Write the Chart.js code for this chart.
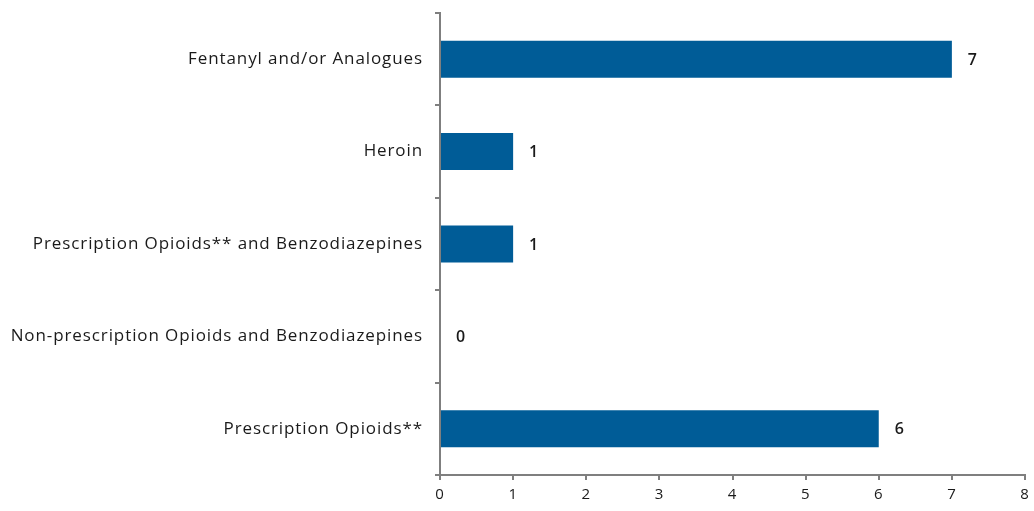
<!DOCTYPE html>
<html lang="en">
<head>
  <meta charset="UTF-8">
  <title>Opioid categories</title>
  <script src="https://cdn.jsdelivr.net/npm/chart.js"></script>
  <style>
    html, body { margin: 0; padding: 0; background: #fff; }
    #wrap { width: 1034px; height: 511px; }
  </style>
</head>
<body>
  <div id="wrap"><canvas id="graphique" width="1034" height="511"></canvas></div>
  <script>
    const categories = [
      "Fentanyl and/or Analogues",
      "Heroin",
      "Prescription Opioids** and Benzodiazepines",
      "Non-prescription Opioids and Benzodiazepines",
      "Prescription Opioids**"
    ];
    const counts = [7, 1, 1, 0, 6];
    const xTicks = [0, 1, 2, 3, 4, 5, 6, 7, 8];

    const police = "'Open Sans', sans-serif";

    // un peu d'espacement entre les lettres, comme l'original
    const espacement = {
      id: "espacement",
      beforeInit(chart) { chart.ctx.letterSpacing = "0.9px"; },
      beforeDraw(chart) { chart.ctx.letterSpacing = "0.9px"; }
    };

    // valeurs à droite des barres
    const etiquettes = {
      id: "etiquettes",
      afterDatasetsDraw(chart) {
        const ctx = chart.ctx;
        const meta = chart.getDatasetMeta(0);
        ctx.save();
        ctx.font = "600 16px " + police;
        ctx.fillStyle = "#1a1a1a";
        ctx.textAlign = "center";
        ctx.textBaseline = "middle";
        meta.data.forEach((bar, i) => {
          ctx.fillText(String(counts[i]), bar.x + 21, bar.y + 1);
        });
        ctx.restore();
      }
    };

    new Chart(document.getElementById("graphique"), {
      type: "bar",
      data: {
        labels: categories,
        datasets: [{
          data: counts,
          backgroundColor: "#005c97",
          borderWidth: 0,
          categoryPercentage: 1,
          barPercentage: 0.4
        }]
      },
      options: {
        indexAxis: "y",
        responsive: false,
        animation: false,
        layout: { padding: { top: 13, right: 9, left: 0, bottom: 0 } },
        plugins: { legend: { display: false }, tooltip: { enabled: false } },
        scales: {
          x: {
            min: 0,
            max: 8,
            afterBuildTicks: (s) => { s.ticks = xTicks.map(v => ({ value: v })); },
            grid: { drawOnChartArea: false, drawTicks: true, tickLength: 5, color: "#7f7f7f", lineWidth: 2 },
            border: { color: "#7f7f7f", width: 2 },
            ticks: { color: "#1a1a1a", font: { family: police, size: 15 }, padding: 6 },
            afterFit: (s) => { s.height = 36; s.paddingLeft = 0; s.paddingRight = 0; }
          },
          y: {
            grid: { drawOnChartArea: false, drawTicks: true, tickLength: 5, color: "#7f7f7f", lineWidth: 2, offset: true },
            border: { color: "#7f7f7f", width: 2 },
            ticks: { color: "#1a1a1a", font: { family: police, size: 17 }, padding: 12 },
            afterFit: (s) => { s.width = 440; s.paddingTop = 0; s.paddingBottom = 0; }
          }
        }
      },
      plugins: [espacement, etiquettes]
    });
  </script>
</body>
</html>
